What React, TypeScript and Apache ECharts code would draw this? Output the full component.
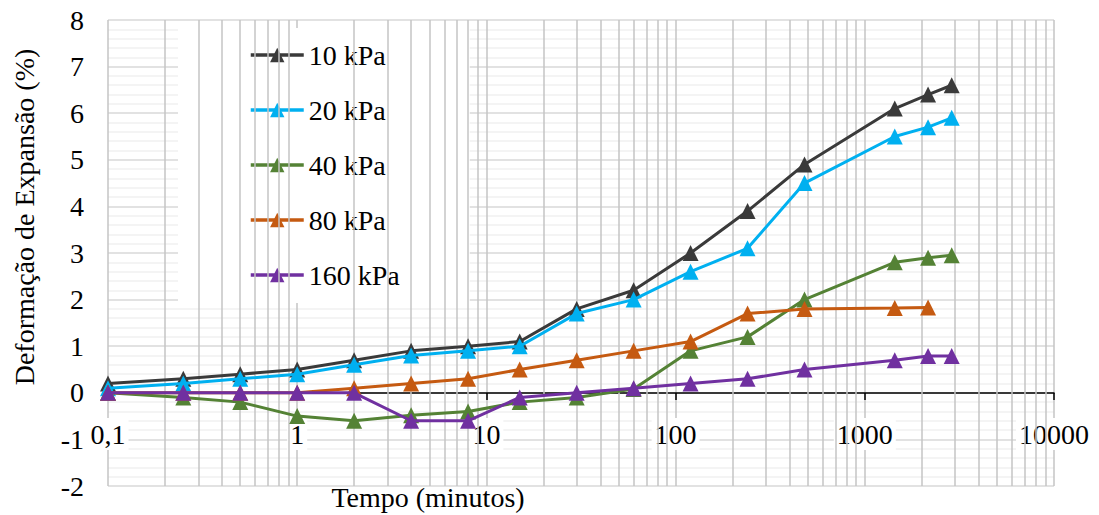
import React, { useEffect, useRef } from "react";
import * as echarts from "echarts";

const times = [0.1, 0.25, 0.5, 1, 2, 4, 8, 15, 30, 60, 120, 240, 480, 1440, 2160, 2880];
const s10 = [0.2, 0.3, 0.4, 0.5, 0.7, 0.9, 1.0, 1.1, 1.8, 2.2, 3.0, 3.9, 4.9, 6.1, 6.4, 6.6];
const s20 = [0.1, 0.2, 0.3, 0.4, 0.6, 0.8, 0.9, 1.0, 1.7, 2.0, 2.6, 3.1, 4.5, 5.5, 5.7, 5.9];
const s40 = [0, -0.1, -0.2, -0.5, -0.6, -0.48, -0.4, -0.2, -0.1, 0.08, 0.9, 1.2, 2.0, 2.8, 2.9, 2.95];
const s80 = [0, 0, 0, 0, 0.1, 0.2, 0.3, 0.5, 0.7, 0.9, 1.1, 1.7, 1.8, 1.82, 1.83, null];
const s160 = [0, 0, 0, 0, 0, -0.6, -0.6, -0.1, 0, 0.1, 0.2, 0.3, 0.5, 0.7, 0.79, 0.79];

const seriesNames = ["10 kPa", "20 kPa", "40 kPa", "80 kPa", "160 kPa"];
const seriesValues = [s10, s20, s40, s80, s160];
const seriesColors = ["#3a3a3a", "#00b0f0", "#548235", "#c55a11", "#7030a0"];

const decades = [0.1, 1, 10, 100, 1000];
const minorMultiples = [2, 3, 4, 5, 6, 7, 8, 9];

const FONT = "Liberation Serif";

export default function App() {
  const ref = useRef<HTMLDivElement>(null);
  useEffect(() => {
    if (!ref.current) return;
    const chart = echarts.init(ref.current, undefined, { renderer: "svg" });
    const minorX = decades.flatMap((d) => minorMultiples.map((k) => +(k * d).toPrecision(6)));
    const dataSeries = seriesNames.map((name, i) => ({
      name,
      type: "line",
      z: 5 + i,
      data: times.map((t, j) => [t, seriesValues[i][j]]).filter((p) => p[1] !== null),
      symbol: "triangle",
      symbolSize: 16,
      itemStyle: { color: seriesColors[i] },
      lineStyle: { color: seriesColors[i], width: 3 },
    }));
    chart.setOption({
      animation: false,
      textStyle: { fontFamily: FONT },
      grid: { left: 108, right: 45, top: 20, bottom: 29, containLabel: false, outerBoundsMode: "none" },
      xAxis: {
        type: "log",
        logBase: 10,
        min: 0.1,
        max: 10000,
        offset: -93,
        axisLine: { show: true, onZero: false, lineStyle: { color: "#000", width: 1.5 } },
        axisTick: { show: true, length: 7, lineStyle: { color: "#000", width: 1.5 } },
        axisLabel: {
          fontFamily: FONT,
          fontSize: 28,
          color: "#000",
          margin: 25,
          backgroundColor: "#fff",
          padding: [2, 3, 2, 3],
          formatter: (v: number) => String(+v.toPrecision(6)).replace(".", ","),
        },
        splitLine: { show: true, lineStyle: { color: "#c4c4c4", width: 1.5 } },
      },
      yAxis: {
        type: "value",
        min: -2,
        max: 8,
        interval: 1,
        axisLine: { show: false },
        axisTick: { show: false },
        axisLabel: { fontFamily: FONT, fontSize: 28, color: "#000", margin: 24 },
        splitLine: { show: true, lineStyle: { color: "#d9d9d9", width: 1.5 } },
        minorTick: { show: false, splitNumber: 5 },
        minorSplitLine: { show: true, lineStyle: { color: "#f0f0f0", width: 1.5 } },
      },
      legend: {
        data: seriesNames,
        orient: "vertical",
        left: 178,
        top: 28,
        backgroundColor: "#fff",
        padding: [13, 70, 14, 71],
        itemGap: 27,
        itemWidth: 53,
        itemHeight: 18,
        lineStyle: { width: 3.5 },
        textStyle: { fontFamily: FONT, fontSize: 28, color: "#000" },
      },
      graphic: [
        {
          type: "text",
          x: 24,
          y: 217,
          rotation: Math.PI / 2,
          style: {
            text: "Deformação de Expansão (%)",
            font: `28px ${FONT}`,
            fill: "#000",
            align: "center",
            verticalAlign: "middle",
          },
        },
        {
          type: "text",
          x: 428,
          y: 497,
          style: {
            text: "Tempo (minutos)",
            font: `28px ${FONT}`,
            fill: "#000",
            align: "center",
            verticalAlign: "middle",
          },
        },
      ],
      series: [
        {
          name: "minor-grid",
          type: "line",
          z: 1,
          data: [],
          silent: true,
          markLine: {
            silent: true,
            symbol: "none",
            animation: false,
            label: { show: false },
            lineStyle: { color: "#c4c4c4", width: 1.5, type: "solid" },
            data: minorX.map((v) => ({ xAxis: v })),
          },
        },
        ...dataSeries,
      ],
    });
    return () => chart.dispose();
  }, []);
  return (
    <div
      ref={ref}
      style={{ position: "fixed", left: 0, top: 0, width: 1099, height: 515, background: "#fff" }}
    />
  );
}
